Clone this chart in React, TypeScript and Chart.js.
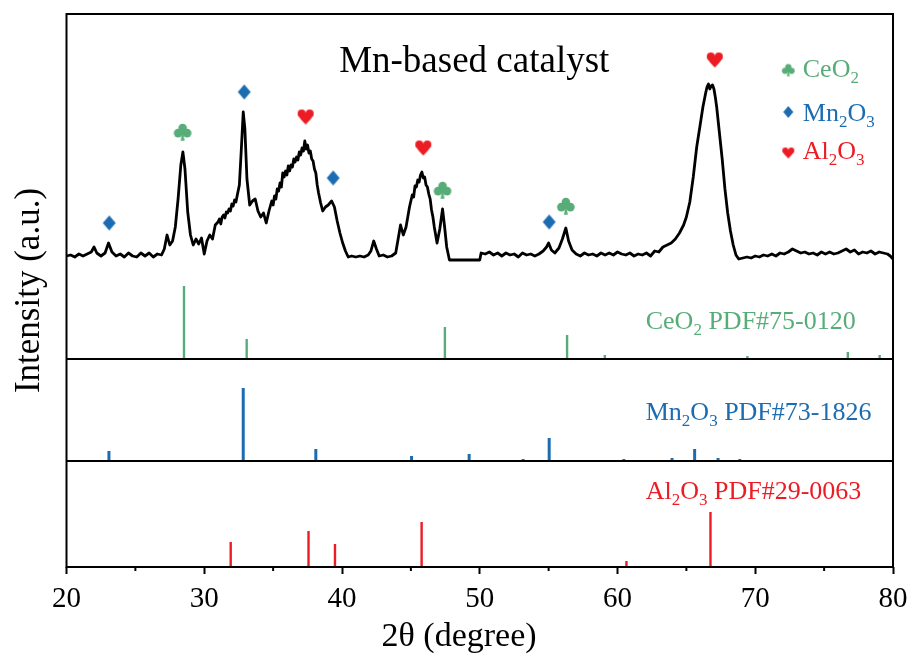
import { useEffect, useRef } from 'react';
import { Chart, registerables } from 'chart.js';

Chart.register(...registerables);

const FONT = '"Liberation Serif", "Times New Roman", serif';

// ---------- data ----------
const xTicks = [20, 30, 40, 50, 60, 70, 80];
const xMinorTicks = [25, 35, 45, 55, 65, 75];

const xrdTheta = [
  20.0, 20.3, 20.6, 20.9, 21.2, 21.5, 21.8, 22.0, 22.2, 22.5, 22.8, 23.05, 23.3, 23.6, 23.9, 24.2, 24.5, 24.8,
  25.1, 25.4, 25.7, 26.0, 26.3, 26.6, 26.9, 27.1, 27.3, 27.5, 27.7, 27.9, 28.1, 28.3, 28.45, 28.6, 28.8, 29.0,
  29.2, 29.4, 29.6, 29.8, 30.0, 30.2, 30.4, 30.6, 30.8, 31.0, 31.1, 31.2, 31.3, 31.4, 31.5, 31.6, 31.7, 31.8,
  31.9, 32.0, 32.1, 32.2, 32.3, 32.4, 32.55, 32.7, 32.83, 32.95, 33.1, 33.3, 33.5, 33.7, 33.9, 34.1, 34.3, 34.5,
  34.7, 34.9, 35.0, 35.1, 35.2, 35.3, 35.4, 35.5, 35.6, 35.7, 35.8, 35.9, 36.0, 36.1, 36.2, 36.3, 36.4, 36.5,
  36.6, 36.7, 36.8, 36.9, 37.0, 37.1, 37.2, 37.3, 37.4, 37.5, 37.6, 37.7, 37.8, 37.9, 38.0, 38.1, 38.2, 38.3,
  38.45, 38.6, 38.8, 39.0, 39.25, 39.45, 39.65, 39.85, 40.05, 40.25, 40.45, 40.7, 41.0, 41.3, 41.6, 41.9, 42.1, 42.3,
  42.5, 42.7, 43.0, 43.3, 43.6, 43.9, 44.1, 44.25, 44.45, 44.65, 44.9, 45.0, 45.1, 45.2, 45.3, 45.4, 45.5, 45.6,
  45.7, 45.8, 45.9, 46.0, 46.1, 46.2, 46.3, 46.4, 46.5, 46.6, 46.7, 46.9, 47.1, 47.3, 47.45, 47.6, 47.8, 50.0,
  50.1, 50.4, 50.7, 51.0, 51.3, 51.6, 51.9, 52.2, 52.5, 52.8, 53.1, 53.4, 53.7, 54.0, 54.3, 54.6, 54.85, 55.0,
  55.2, 55.45, 55.75, 56.0, 56.25, 56.45, 56.7, 57.0, 57.3, 57.6, 57.9, 58.2, 58.5, 58.8, 59.1, 59.4, 59.7, 60.0,
  60.3, 60.6, 60.9, 61.2, 61.5, 61.8, 62.1, 62.4, 62.7, 63.0, 63.3, 63.6, 63.9, 64.2, 64.5, 64.8, 65.0, 65.25,
  65.5, 65.75, 66.0, 66.2, 66.4, 66.5, 66.6, 66.7, 66.8, 66.9, 67.0, 67.1, 67.2, 67.4, 67.6, 67.8, 68.0, 68.2,
  68.4, 68.6, 68.8, 69.1, 69.4, 69.7, 70.0, 70.3, 70.6, 70.9, 71.2, 71.5, 71.8, 72.1, 72.4, 72.7, 73.0, 73.3,
  73.6, 73.9, 74.2, 74.5, 74.8, 75.1, 75.4, 75.7, 76.0, 76.3, 76.6, 76.9, 77.2, 77.5, 77.8, 78.1, 78.4, 78.7,
  79.0, 79.3, 79.6, 79.8, 80.0,
];
const xrdIntensity = [
  1, 2, 0, 3, 1, 3, 5, 10, 4, 1, 4, 14, 5, 1, 3, 0, 4, 1,
  0, 4, 1, 4, 0, 3, 2, 8, 22, 12, 16, 30, 58, 92, 105, 88, 45, 22,
  12, 18, 13, 19, 3, 16, 22, 18, 32, 35, 38, 33, 40, 42, 39, 45, 44, 48,
  46, 53, 51, 57, 55, 62, 72, 110, 145, 128, 78, 52, 56, 58, 46, 40, 44, 34,
  46, 56, 52, 61, 58, 68, 66, 74, 70, 84, 80, 86, 82, 91, 86, 92, 90, 98,
  95, 100, 97, 105, 102, 109, 106, 116, 108, 112, 104, 106, 98, 96, 88, 84, 72, 64,
  54, 46, 50, 52, 56, 50, 36, 24, 14, 6, 0, 1, 0, 1, 0, 2, 6, 16,
  8, 1, 2, 0, 1, 4, 20, 32, 22, 30, 50, 56, 62, 60, 71, 70, 77, 75,
  82, 85, 79, 80, 72, 70, 63, 58, 47, 40, 30, 14, 28, 48, 30, 10, -3, -3,
  4, 3, 5, 2, 4, 1, 4, 2, 3, 0, 4, 2, 3, 1, 3, 6, 10, 14,
  7, 4, 9, 18, 29, 16, 7, 3, 1, 4, 2, 3, 1, 4, 2, 4, 2, 5,
  3, 2, 4, 1, 3, 2, 4, 1, 6, 5, 10, 12, 14, 18, 24, 32, 40, 55,
  80, 110, 132, 150, 164, 170, 173, 168, 171, 172, 168, 160, 150, 124, 98, 68, 44, 26,
  12, 2, -2, -1, 0, -1, 1, 0, 2, 1, 3, 1, 4, 3, 5, 8, 6, 4,
  5, 3, 4, 2, 5, 3, 5, 3, 4, 6, 8, 5, 7, 3, 5, 4, 6, 3,
  5, 4, 3, 1, -2,
];

// Reference patterns (stick positions / relative intensities)
const ceTheta = [28.53, 33.08, 47.47, 56.34, 59.08, 69.43, 76.72, 79.03];
const ceIntensity = [73, 20, 32, 24, 4, 3, 7, 4];
const mnTheta = [23.08, 32.83, 38.1, 45.05, 49.23, 53.15, 55.04, 60.46, 63.96, 65.6, 67.3, 68.88];
const mnIntensity = [10, 73, 12, 5, 7, 2, 23, 2, 3, 12, 3, 2];
const alTheta = [31.92, 37.57, 39.49, 45.78, 60.65, 66.75];
const alIntensity = [25, 36, 23, 45, 6, 55];

// Phase markers above the measured pattern
const ceMarkTheta = [28.43, 47.3, 56.25];
const ceMarkLevel = [125, 67, 51];
const mnMarkTheta = [23.1, 32.9, 39.36, 55.04];
const mnMarkLevel = [34, 165, 79, 35];
const alMarkTheta = [37.36, 45.9, 67.06];
const alMarkLevel = [140, 109, 197];

// stacking offsets (a.u.)
const BASE_AL = 0;
const BASE_MN = 106;
const BASE_CE = 208;
const BASE_XRD = 310;
const Y_MAX = 553;

const GREEN = 'rgb(88,172,120)';
const BLUE = 'rgb(28,108,178)';
const RED = 'rgb(236,28,36)';

// ---------- glyphs ----------
function drawClub(ctx: any, cx: number, cy: number, s: number) {
  const r = s * 0.24;
  const circ = (x: number, y: number, rr: number) => {
    ctx.beginPath();
    ctx.arc(x, y, rr, 0, Math.PI * 2);
    ctx.fill();
  };
  circ(cx, cy - s * 0.22, r);
  circ(cx - s * 0.25, cy + s * 0.06, r);
  circ(cx + s * 0.25, cy + s * 0.06, r);
  circ(cx, cy, r * 0.7);
  ctx.beginPath();
  ctx.moveTo(cx, cy - s * 0.05);
  ctx.lineTo(cx - s * 0.11, cy + s * 0.48);
  ctx.lineTo(cx + s * 0.11, cy + s * 0.48);
  ctx.closePath();
  ctx.fill();
}

function drawHeart(ctx: any, cx: number, cy: number, w: number, h: number) {
  const r = w / 4;
  const top = cy - h / 2;
  const bottom = cy + h / 2;
  ctx.beginPath();
  ctx.arc(cx - r, top + r, r, 0, Math.PI * 2);
  ctx.fill();
  ctx.beginPath();
  ctx.arc(cx + r, top + r, r, 0, Math.PI * 2);
  ctx.fill();
  ctx.beginPath();
  ctx.moveTo(cx - 2 * r + 0.1, top + r * 1.25);
  ctx.quadraticCurveTo(cx - r * 1.5, top + h * 0.62, cx, bottom);
  ctx.quadraticCurveTo(cx + r * 1.5, top + h * 0.62, cx + 2 * r - 0.1, top + r * 1.25);
  ctx.lineTo(cx, top + r);
  ctx.closePath();
  ctx.fill();
}

function drawDiamond(ctx: any, cx: number, cy: number, w: number, h: number) {
  ctx.beginPath();
  ctx.moveTo(cx, cy - h / 2);
  ctx.lineTo(cx + w / 2, cy);
  ctx.lineTo(cx, cy + h / 2);
  ctx.lineTo(cx - w / 2, cy);
  ctx.closePath();
  ctx.fill();
}

function makeGlyph(kind: string, w: number, h: number, color: string) {
  const c = document.createElement('canvas');
  c.width = Math.ceil(w) + 2;
  c.height = Math.ceil(h) + 2;
  const ctx = c.getContext('2d')!;
  ctx.fillStyle = color;
  const cx = c.width / 2;
  const cy = c.height / 2;
  if (kind === 'club') drawClub(ctx, cx, cy, Math.min(w, h));
  else if (kind === 'heart') drawHeart(ctx, cx, cy, w, h);
  else drawDiamond(ctx, cx, cy, w, h);
  return c;
}

type Part = { t: string; sub?: boolean };

function drawRich(ctx: any, x: number, y: number, parts: Part[], size: number, color: string, align = 'left') {
  ctx.save();
  ctx.fillStyle = color;
  ctx.textBaseline = 'alphabetic';
  ctx.textAlign = 'left';
  const fontFor = (p: Part) => `${p.sub ? Math.round(size * 0.64) : size}px ${FONT}`;
  let total = 0;
  for (const p of parts) {
    ctx.font = fontFor(p);
    total += ctx.measureText(p.t).width;
  }
  let cx = align === 'center' ? x - total / 2 : x;
  for (const p of parts) {
    ctx.font = fontFor(p);
    ctx.fillText(p.t, cx, p.sub ? y + size * 0.22 : y);
    cx += ctx.measureText(p.t).width;
  }
  ctx.restore();
}

function stickData(theta: number[], inten: number[], base: number) {
  const out: any[] = [];
  theta.forEach((t, i) => {
    out.push({ x: t, y: base }, { x: t, y: base + inten[i] }, { x: t, y: null });
  });
  return out;
}

function markData(theta: number[], level: number[]) {
  return theta.map((t, i) => ({ x: t, y: BASE_XRD + level[i] }));
}

export default function App() {
  const ref = useRef<HTMLCanvasElement>(null);

  useEffect(() => {
    const canvas = ref.current!;
    const clubBig = makeGlyph('club', 18, 18, GREEN);
    const diamondBig = makeGlyph('diamond', 13, 15, BLUE);
    const heartBig = makeGlyph('heart', 16, 15, RED);
    const clubSmall = makeGlyph('club', 13, 13, GREEN);
    const diamondSmall = makeGlyph('diamond', 10, 12, BLUE);
    const heartSmall = makeGlyph('heart', 12, 11, RED);

    const decor = {
      id: 'decor',
      afterDraw(chart: any) {
        const { ctx, chartArea: a } = chart;
        const xs = chart.scales.x;
        const ys = chart.scales.y;
        ctx.save();
        ctx.strokeStyle = '#000';
        ctx.lineWidth = 2;
        ctx.strokeRect(a.left, a.top, a.right - a.left, a.bottom - a.top);
        for (const b of [BASE_MN, BASE_CE]) {
          const py = ys.getPixelForValue(b);
          ctx.beginPath();
          ctx.moveTo(a.left, py);
          ctx.lineTo(a.right, py);
          ctx.stroke();
        }
        for (const v of xMinorTicks) {
          const px = xs.getPixelForValue(v);
          ctx.beginPath();
          ctx.moveTo(px, a.bottom);
          ctx.lineTo(px, a.bottom + 4);
          ctx.stroke();
        }
        ctx.restore();

        // x-axis title
        drawRich(ctx, xs.getPixelForValue(48.5), a.bottom + 79, [{ t: '2θ (degree)' }], 34, '#000', 'center');

        // title inside the plot
        drawRich(ctx, xs.getPixelForValue(49.6), ys.getPixelForValue(495), [{ t: 'Mn-based catalyst' }], 37, '#000', 'center');

        // legend
        const legend = [
          { g: clubSmall, parts: [{ t: 'CeO' }, { t: '2', sub: true }], color: GREEN, gy: 497, ty: 490 },
          { g: diamondSmall, parts: [{ t: 'Mn' }, { t: '2', sub: true }, { t: 'O' }, { t: '3', sub: true }], color: BLUE, gy: 455, ty: 446 },
          { g: heartSmall, parts: [{ t: 'Al' }, { t: '2', sub: true }, { t: 'O' }, { t: '3', sub: true }], color: RED, gy: 414, ty: 408 },
        ];
        const gx = xs.getPixelForValue(72.4);
        const tx = xs.getPixelForValue(73.45);
        for (const e of legend) {
          const gy = ys.getPixelForValue(e.gy);
          ctx.drawImage(e.g, gx - e.g.width / 2, gy - e.g.height / 2);
          drawRich(ctx, tx, ys.getPixelForValue(e.ty), e.parts, 26, e.color);
        }

        // reference pattern labels
        const lx = xs.getPixelForValue(62.05);
        drawRich(ctx, lx, ys.getPixelForValue(238), [{ t: 'CeO' }, { t: '2', sub: true }, { t: ' PDF#75-0120' }], 26, GREEN);
        drawRich(ctx, lx, ys.getPixelForValue(147), [{ t: 'Mn' }, { t: '2', sub: true }, { t: 'O' }, { t: '3', sub: true }, { t: ' PDF#73-1826' }], 26, BLUE);
        drawRich(ctx, lx, ys.getPixelForValue(68), [{ t: 'Al' }, { t: '2', sub: true }, { t: 'O' }, { t: '3', sub: true }, { t: ' PDF#29-0063' }], 26, RED);
      },
    };

    const stickStyle = { type: 'line', pointRadius: 0, spanGaps: false, borderCapStyle: 'butt', tension: 0 };

    const chart = new Chart(canvas, {
      type: 'line',
      data: {
        datasets: [
          {
            label: 'Mn-based catalyst',
            data: xrdTheta.map((t, i) => ({ x: t, y: BASE_XRD + xrdIntensity[i] })),
            borderColor: '#000',
            borderWidth: 2.8,
            pointRadius: 0,
            tension: 0,
            borderJoinStyle: 'round',
          },
          { ...stickStyle, label: 'CeO2 PDF#75-0120', data: stickData(ceTheta, ceIntensity, BASE_CE), borderColor: GREEN, borderWidth: 2.4 },
          { ...stickStyle, label: 'Mn2O3 PDF#73-1826', data: stickData(mnTheta, mnIntensity, BASE_MN), borderColor: BLUE, borderWidth: 3 },
          { ...stickStyle, label: 'Al2O3 PDF#29-0063', data: stickData(alTheta, alIntensity, BASE_AL), borderColor: RED, borderWidth: 2.4 },
          { type: 'line', label: 'CeO2', showLine: false, data: markData(ceMarkTheta, ceMarkLevel), pointStyle: clubBig, pointRadius: 8 },
          { type: 'line', label: 'Mn2O3', showLine: false, data: markData(mnMarkTheta, mnMarkLevel), pointStyle: diamondBig, pointRadius: 8 },
          { type: 'line', label: 'Al2O3', showLine: false, data: markData(alMarkTheta, alMarkLevel), pointStyle: heartBig, pointRadius: 8 },
        ] as any,
      },
      options: {
        responsive: false,
        animation: false,
        events: [],
        layout: { padding: { top: 14, right: 20, bottom: 0, left: 0 } },
        plugins: { legend: { display: false }, tooltip: { enabled: false } },
        scales: {
          x: {
            type: 'linear',
            min: 20,
            max: 80,
            afterFit: (s: any) => {
              s.height = 95;
              s.paddingRight = 0;
              s.paddingLeft = 0;
            },
            afterBuildTicks: (s: any) => {
              s.ticks = xTicks.map((v) => ({ value: v }));
            },
            ticks: { font: { family: FONT, size: 29 }, color: '#000', padding: 8, maxRotation: 0, autoSkip: false },
            grid: { display: true, drawOnChartArea: false, drawTicks: true, tickLength: 7, tickColor: '#000', tickWidth: 2 },
            border: { display: false },
            title: { display: false, text: '2θ (degree)' },
          },
          y: {
            type: 'linear',
            min: 0,
            max: Y_MAX,
            afterFit: (s: any) => {
              s.width = 66.5;
            },
            ticks: { display: false },
            grid: { display: false },
            border: { display: false },
            title: { display: true, text: 'Intensity (a.u.)', font: { family: FONT, size: 35 }, color: '#000', padding: { top: 9, bottom: 0 } },
          },
        },
      } as any,
      plugins: [decor],
    });
    return () => chart.destroy();
  }, []);

  return (
    <canvas
      ref={ref}
      width={913}
      height={662}
      style={{ position: 'absolute', left: 0, top: 0, width: 913, height: 662, display: 'block' }}
    />
  );
}
